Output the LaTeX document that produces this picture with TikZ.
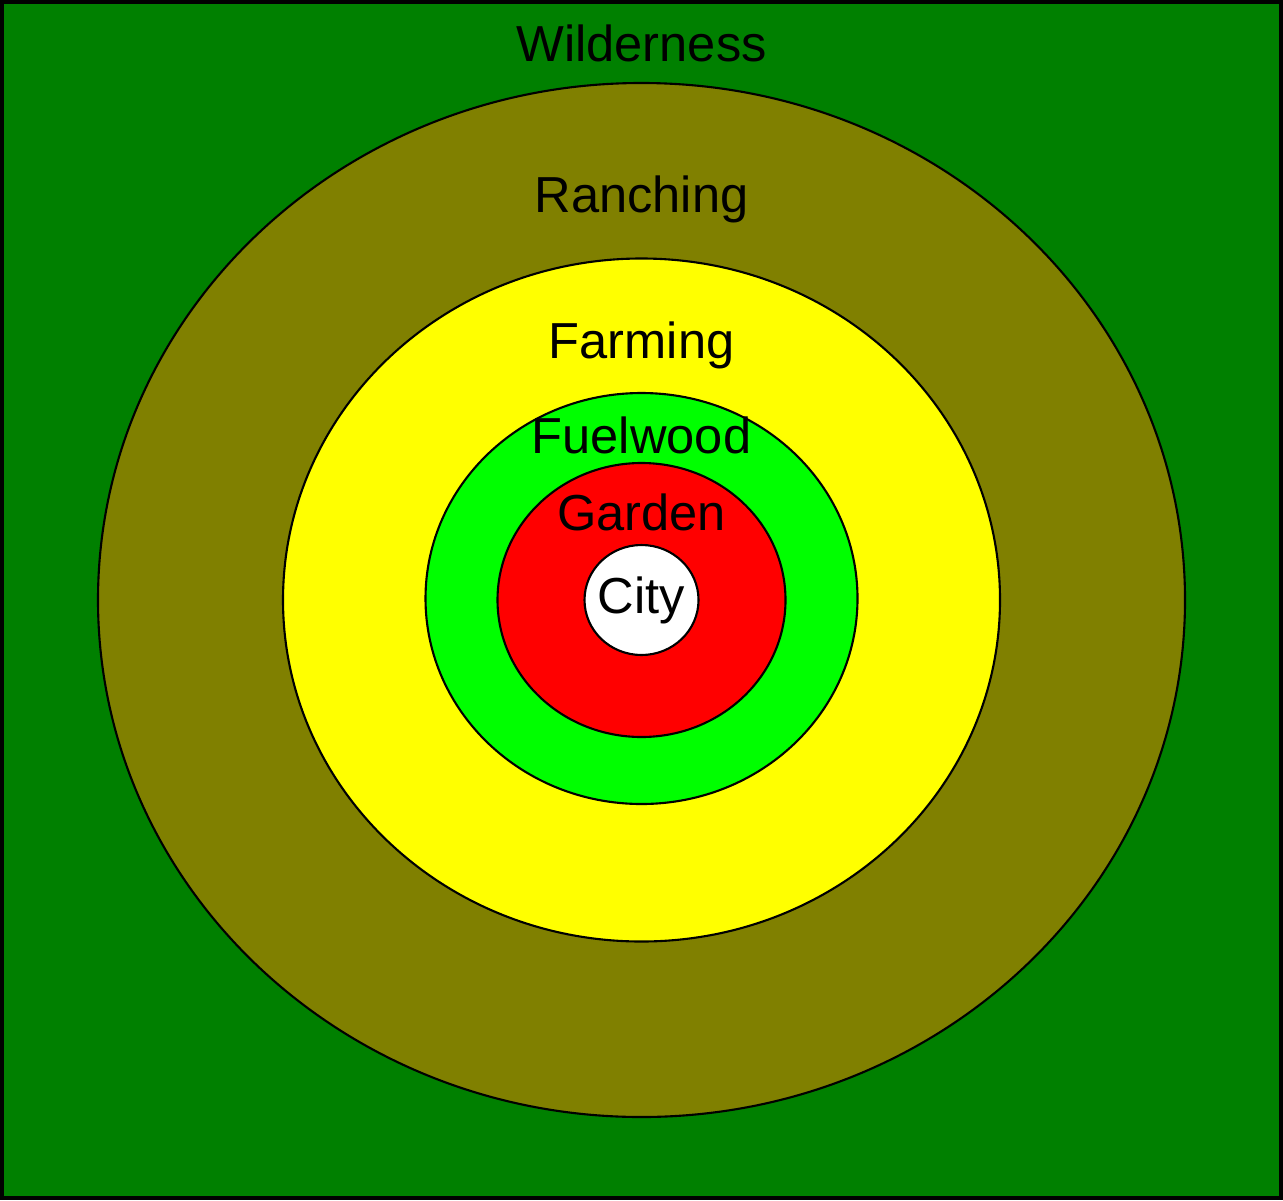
\documentclass[tikz,border=0pt]{standalone}
\usepackage{fontspec}
\setmainfont{Liberation Sans}
\usepackage{tikz}
\usetikzlibrary{positioning}

\definecolor{wildgreen}{RGB}{0,128,0}
\definecolor{rancholive}{RGB}{128,128,0}
\definecolor{farmyellow}{RGB}{255,255,0}
\definecolor{fuellime}{RGB}{0,255,0}
\definecolor{gardenred}{RGB}{255,0,0}

\begin{document}
\begin{tikzpicture}[
      zone/.style={draw=black, line width=0.6pt},
      zonelabel/.style={anchor=base, inner sep=0pt, font=\fontsize{14.4}{17}\selectfont, text=black}
    ]
      \useasboundingbox (0,0) rectangle (12.83,12);

      % Wilderness background
      \draw[fill=wildgreen, line width=0.04cm] (0.02,0.02) rectangle (12.81,11.98);

      % Rings from outside in
      \coordinate (centre) at (6.415,6.0);
      \draw[zone, fill=rancholive] (centre) ellipse [x radius=5.435, y radius=5.17];
      \draw[zone, fill=farmyellow] (centre) ellipse [x radius=3.585, y radius=3.415];
      \draw[zone, fill=fuellime] ([yshift=0.015cm]centre) ellipse [x radius=2.16, y radius=2.055];
      \draw[zone, fill=gardenred] (centre) ellipse [x radius=1.44, y radius=1.37];
      \draw[zone, fill=white] (centre) ellipse [x radius=0.57, y radius=0.55];

      % Labels
      \node[zonelabel] (wilderness) at (6.415,11.38) {Wilderness};
      \node[zonelabel] (ranching) at (6.415,9.87) {Ranching};
      \node[zonelabel] (farming) at (6.415,8.42) {Farming};
      \node[zonelabel] (fuelwood) at (6.415,7.47) {Fuelwood};
      \node[zonelabel] (garden) at (6.415,6.70) {Garden};
      \node[zonelabel] (city) at (6.415,5.87) {City};

    \end{tikzpicture}
\end{document}
